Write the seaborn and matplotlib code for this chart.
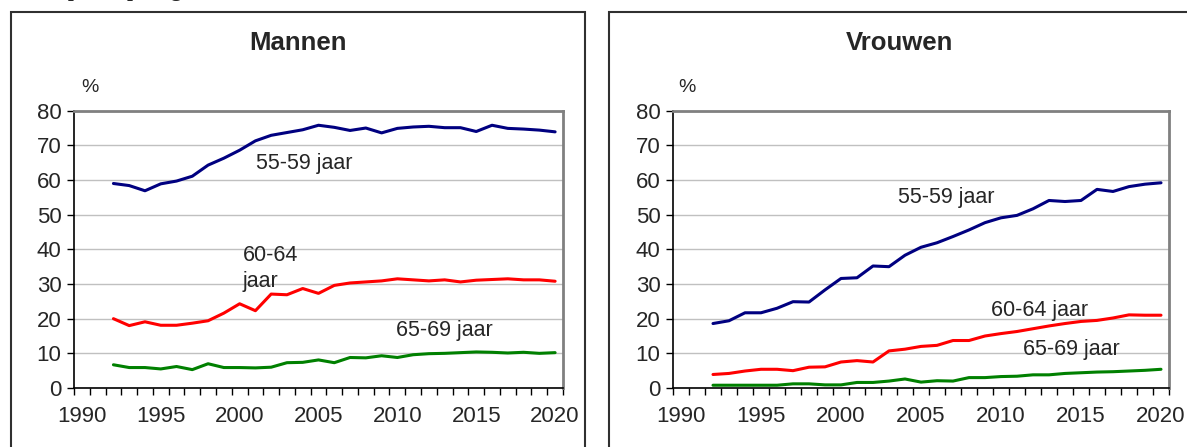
import matplotlib
matplotlib.use('Agg')
import matplotlib.pyplot as plt
from matplotlib.patches import Rectangle
from matplotlib.ticker import MultipleLocator, FixedLocator
import pandas as pd
import seaborn as sns

# gegevens
jaren = list(range(1992, 2021))
groepen = ['55-59 jaar', '60-64 jaar', '65-69 jaar']
kleuren = {'55-59 jaar': '#000080', '60-64 jaar': '#ff0000', '65-69 jaar': '#008000'}

mannen_55_59 = [59.0, 58.4, 56.9, 58.9, 59.7, 61.1, 64.3, 66.3, 68.6, 71.3, 72.9, 73.7, 74.5, 75.8, 75.2,
                74.3, 75.0, 73.6, 74.9, 75.3, 75.5, 75.1, 75.1, 74.0, 75.8, 74.9, 74.7, 74.4, 73.9]
mannen_60_64 = [20.0, 18.0, 19.1, 18.1, 18.1, 18.7, 19.4, 21.6, 24.3, 22.3, 27.1, 26.9, 28.7, 27.3, 29.6,
                30.3, 30.6, 30.9, 31.5, 31.2, 30.9, 31.2, 30.6, 31.1, 31.3, 31.5, 31.2, 31.2, 30.8]
mannen_65_69 = [6.7, 5.9, 5.9, 5.5, 6.2, 5.3, 7.0, 5.9, 5.9, 5.8, 6.0, 7.3, 7.4, 8.1, 7.3,
                8.8, 8.7, 9.3, 8.8, 9.6, 9.9, 10.0, 10.2, 10.4, 10.3, 10.1, 10.3, 10.0, 10.2]

vrouwen_55_59 = [18.6, 19.4, 21.7, 21.7, 23.0, 24.9, 24.8, 28.3, 31.6, 31.8, 35.2, 35.0, 38.3, 40.6, 41.9,
                 43.7, 45.6, 47.7, 49.1, 49.8, 51.7, 54.1, 53.8, 54.1, 57.3, 56.7, 58.1, 58.8, 59.2]
vrouwen_60_64 = [3.9, 4.2, 4.9, 5.4, 5.4, 5.0, 6.0, 6.1, 7.5, 7.9, 7.5, 10.7, 11.2, 12.0, 12.3,
                 13.7, 13.7, 15.0, 15.7, 16.3, 17.1, 17.9, 18.6, 19.2, 19.5, 20.2, 21.1, 21.0, 21.0]
vrouwen_65_69 = [0.8, 0.8, 0.8, 0.8, 0.8, 1.2, 1.2, 0.9, 0.9, 1.6, 1.6, 2.0, 2.6, 1.7, 2.1,
                 2.0, 3.0, 3.0, 3.3, 3.4, 3.8, 3.8, 4.2, 4.4, 4.6, 4.7, 4.9, 5.1, 5.4]


def lang_formaat(reeksen):
    rows = []
    for groep, waarden in zip(groepen, reeksen):
        for j, w in zip(jaren, waarden):
            rows.append({'jaar': j, 'pct': w, 'groep': groep})
    return pd.DataFrame(rows)


df_m = lang_formaat([mannen_55_59, mannen_60_64, mannen_65_69])
df_v = lang_formaat([vrouwen_55_59, vrouwen_60_64, vrouwen_65_69])

sns.set_style('white')
plt.rcParams['font.family'] = ['Liberation Sans', 'DejaVu Sans']

fig = plt.figure(figsize=(11.87, 4.47), dpi=100)

# kaders rond beide panelen
for x0, x1 in [(11, 585), (609, 1200)]:
    fig.patches.append(Rectangle((x0 / 1187, -0.1), (x1 - x0) / 1187, 1.1 - 12 / 447,
                                 transform=fig.transFigure, fill=False,
                                 edgecolor='#303030', linewidth=1.5))

# afgesneden kop bovenaan (alleen de onderkant is zichtbaar)
fig.text(0.012, 1 + 4.5 / 447, 'Netto participatiegraad', fontsize=15,
         fontweight='bold', family='Liberation Serif', va='baseline', ha='left')

ax1 = fig.add_axes([74 / 1187, 59 / 447, 489 / 1187, 277.3 / 447])
ax2 = fig.add_axes([673 / 1187, 59 / 447, 496 / 1187, 277.3 / 447])

sns.lineplot(data=df_m, x='jaar', y='pct', hue='groep', palette=kleuren, linewidth=2.2,
             legend=False, ax=ax1)
sns.lineplot(data=df_v, x='jaar', y='pct', hue='groep', palette=kleuren, linewidth=2.2,
             legend=False, ax=ax2)

for ax in (ax1, ax2):
    ax.set_xlim(1989.5, 2020.5)
    ax.set_ylim(0, 80)
    ax.set_xlabel('')
    ax.set_ylabel('')
    ax.yaxis.set_major_locator(MultipleLocator(10))
    ax.xaxis.set_major_locator(MultipleLocator(5))
    ax.xaxis.set_minor_locator(FixedLocator([x + 0.5 for x in range(1989, 2021)]))
    ax.tick_params(axis='y', direction='out', length=5, width=1, color='black',
                   labelsize=16, pad=4, left=True)
    ax.tick_params(axis='x', which='major', length=0, labelsize=16, pad=13)
    ax.tick_params(axis='x', which='minor', direction='out', length=5, width=1,
                   color='black', bottom=True)
    ax.yaxis.grid(True, color='#c0c0c0', linewidth=1)
    ax.set_axisbelow(True)
    for s in ('top', 'right'):
        ax.spines[s].set_color('#808080')
        ax.spines[s].set_linewidth(2)
    for s in ('left', 'bottom'):
        ax.spines[s].set_color('black')
        ax.spines[s].set_linewidth(1.2)

# labels bij de lijnen
ax1.text(2004.1, 64.9, '55-59 jaar', fontsize=15.5, ha='center', va='center')
ax1.text(2000.2, 34.5, '60-64\njaar', fontsize=15.5, ha='left', va='center', linespacing=1.3)
ax1.text(2013.0, 16.7, '65-69 jaar', fontsize=15.5, ha='center', va='center')

ax2.text(2006.6, 55.1, '55-59 jaar', fontsize=15.5, ha='center', va='center')
ax2.text(2012.4, 22.3, '60-64 jaar', fontsize=15.5, ha='center', va='center')
ax2.text(2014.4, 11.2, '65-69 jaar', fontsize=15.5, ha='center', va='center')

# titels en eenheden
fig.text(298 / 1187, 1 - 43 / 447, 'Mannen', fontsize=18.5, fontweight='bold', ha='center', va='center')
fig.text(900 / 1187, 1 - 43 / 447, 'Vrouwen', fontsize=18.5, fontweight='bold', ha='center', va='center')
fig.text(90 / 1187, 1 - 88 / 447, '%', fontsize=14, ha='center', va='center')
fig.text(687 / 1187, 1 - 88 / 447, '%', fontsize=14, ha='center', va='center')

fig.savefig('out.png', dpi=100)
